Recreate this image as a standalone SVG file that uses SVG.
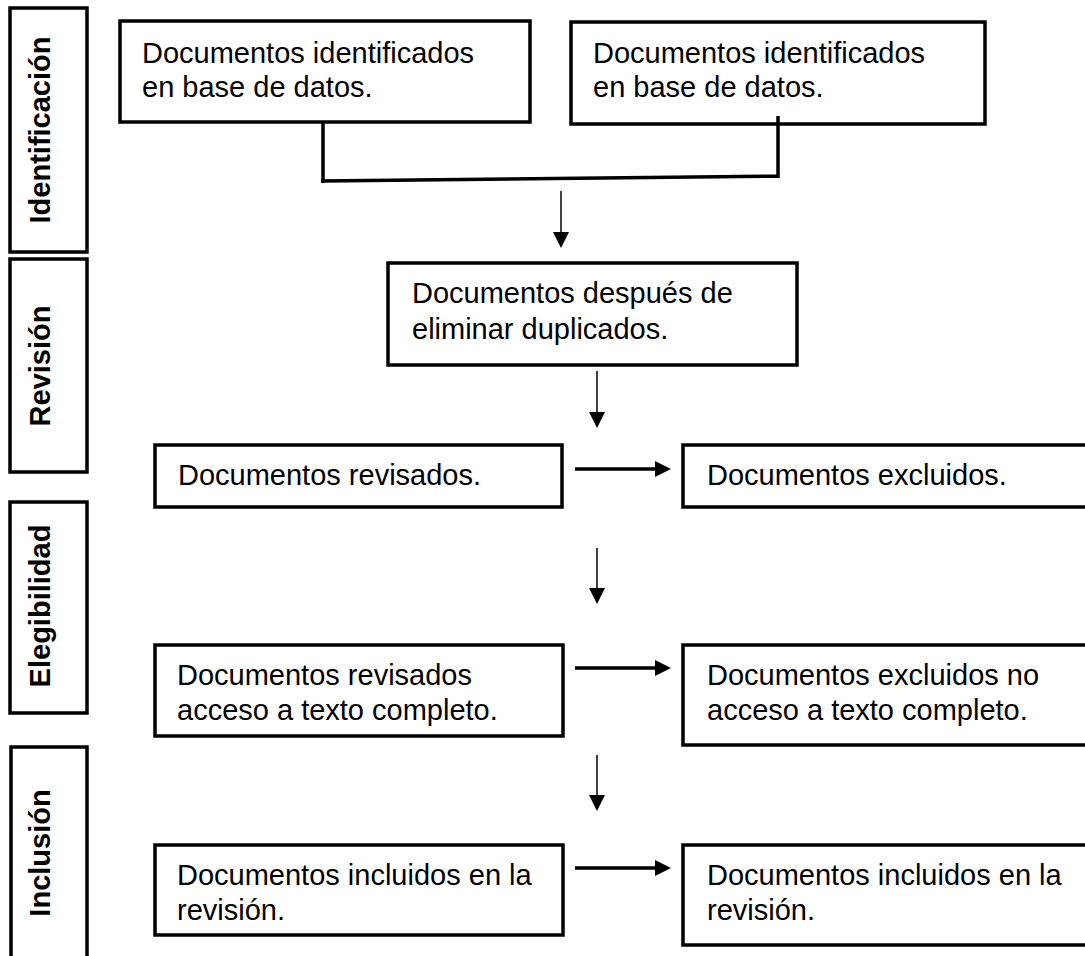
<svg xmlns="http://www.w3.org/2000/svg" width="1085" height="956" viewBox="0 0 1085 956">
<style>
  .box { fill: #ffffff; stroke: #000000; stroke-width: 3.5; }
  .txt { font-family: "Liberation Sans", Arial, sans-serif; font-size: 29px; fill: #000000; }
  .lbl { font-family: "Liberation Sans", Arial, sans-serif; font-size: 29px; font-weight: bold; fill: #000000; text-anchor: middle; }
  .thin { fill: none; stroke: #000000; stroke-width: 1.5; }
  .thick { fill: none; stroke: #000000; stroke-width: 3.5; }
</style>
<defs>
  <marker id="head" viewBox="0 0 16 16" markerWidth="16" markerHeight="16" markerUnits="userSpaceOnUse" refX="3" refY="8" orient="auto">
    <path d="M0,0 L16,8 L0,16 Z" fill="#000000"/>
  </marker>
</defs>
<rect width="1085" height="956" fill="#ffffff"/>

<g id="phase-identificacion">
  <rect class="box" x="10" y="8" width="77" height="244"/>
  <text class="lbl" transform="translate(50,130) rotate(-90)">Identificación</text>
</g>
<g id="phase-revision">
  <rect class="box" x="10" y="259" width="77" height="213"/>
  <text class="lbl" transform="translate(50,366) rotate(-90)">Revisión</text>
</g>
<g id="phase-elegibilidad">
  <rect class="box" x="10" y="502" width="77" height="211"/>
  <text class="lbl" transform="translate(50,606) rotate(-90)">Elegibilidad</text>
</g>
<g id="phase-inclusion">
  <rect class="box" x="11" y="747" width="76" height="230"/>
  <text class="lbl" transform="translate(50,853) rotate(-90)">Inclusión</text>
</g>

<g id="node-id1">
  <rect class="box" x="120" y="21" width="410" height="101"/>
  <text class="txt" x="142" y="63">Documentos identificados</text>
  <text class="txt" x="142" y="97">en base de datos.</text>
</g>
<g id="node-id2">
  <rect class="box" x="571" y="22" width="414" height="102"/>
  <text class="txt" x="593" y="63">Documentos identificados</text>
  <text class="txt" x="593" y="97">en base de datos.</text>
</g>
<g id="node-dedup">
  <rect class="box" x="388" y="263" width="409" height="102"/>
  <text class="txt" x="412" y="303">Documentos después de</text>
  <text class="txt" x="412" y="339">eliminar duplicados.</text>
</g>
<g id="node-revisados">
  <rect class="box" x="155" y="445" width="407" height="62"/>
  <text class="txt" x="178" y="485">Documentos revisados.</text>
</g>
<g id="node-excluidos">
  <rect class="box" x="683" y="445" width="420" height="62"/>
  <text class="txt" x="707" y="485">Documentos excluidos.</text>
</g>
<g id="node-texto-completo">
  <rect class="box" x="155" y="645" width="408" height="91"/>
  <text class="txt" x="177" y="685">Documentos revisados</text>
  <text class="txt" x="177" y="720">acceso a texto completo.</text>
</g>
<g id="node-excluidos-texto">
  <rect class="box" x="683" y="645" width="420" height="100"/>
  <text class="txt" x="707" y="685">Documentos excluidos no</text>
  <text class="txt" x="707" y="720">acceso a texto completo.</text>
</g>
<g id="node-incluidos1">
  <rect class="box" x="155" y="845" width="408" height="90"/>
  <text class="txt" x="177" y="885">Documentos incluidos en la</text>
  <text class="txt" x="177" y="920">revisión.</text>
</g>
<g id="node-incluidos2">
  <rect class="box" x="683" y="845" width="420" height="100"/>
  <text class="txt" x="707" y="885">Documentos incluidos en la</text>
  <text class="txt" x="707" y="920">revisión.</text>
</g>

<g id="connectors">
  <path class="thick" d="M323,122 V183 M321,181 L778,176 M778,116 V178"/>
  <path class="thin" d="M561,191 V235" marker-end="url(#head)"/>
  <path class="thin" d="M597,371 V415" marker-end="url(#head)"/>
  <path class="thin" d="M597,548 V591" marker-end="url(#head)"/>
  <path class="thin" d="M597,755 V798" marker-end="url(#head)"/>
  <path class="thick" d="M575,469 H658" marker-end="url(#head)"/>
  <path class="thick" d="M575,668 H658" marker-end="url(#head)"/>
  <path class="thick" d="M575,868 H658" marker-end="url(#head)"/>
</g>
</svg>
